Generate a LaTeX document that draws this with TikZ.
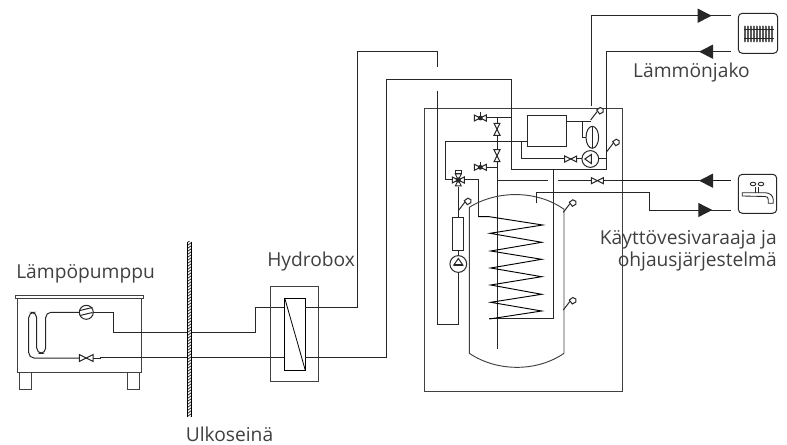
\documentclass[tikz,border=0pt]{standalone}
\usepackage{fontspec}
\setmainfont{Open Sans}
\usetikzlibrary{arrows.meta,calc}
\tikzset{
  >={Triangle[length=10.5pt,width=10.5pt]},
  sensor/.pic={
    \draw[pipe] (0,0)--(6.5,-8.5);
    \draw[pipe,fill=white] (6,-10)--(9.5,-12.5)--(12.5,-11)--(12.5,-8)--(9,-6)--cycle;
  },
  valve/.pic={
    \draw[pipe,fill=white] (-6,-3)--(6,3)--(6,-3)--(-6,3)--cycle;
  },
  motorvalve/.pic={
    \draw[pipe,fill=white] (-6,-3)--(6,3)--(6,-3)--(-6,3)--cycle;
    \draw[pipe] (0,0)--(0,-5.5);
    \fill[black!85] (0,0) circle (2.4);
  },
  pump/.pic={
    \draw[pipe,fill=white] (0,0) circle (8.4);
    \draw[pipe] (-5.5,0)--(1,-4.5)--(1,4.5)--cycle;
    \draw[line width=1.2pt,black!85] (1,-4.5)--(1,4.5);
  },
}
\tikzstyle{pipe}=[line width=.75pt,draw=black!85]
\tikzstyle{casing}=[line width=.7pt,draw=black!75]
\tikzstyle{flow}=[pipe,->,shorten >=0pt]
\tikzstyle{label}=[font=\fontsize{14.4pt}{17pt}\selectfont,text=black!75,inner sep=0pt]

\begin{document}
\begin{tikzpicture}[x=.75pt,y=-.75pt]
  \useasboundingbox (0,0) rectangle (787,445);
  % labels
  \node[label,anchor=base west] (lampopumppu) at (16,278.5) {Lämpöpumppu};
  \node[label,anchor=base west] (hydrobox) at (267,266.5) {Hydrobox};
  \node[label,anchor=base] (ulkoseina) at (229.5,441) {Ulkoseinä};
  \node[label,anchor=base] (jako) at (691.5,78) {Lämmönjako};
  \node[label,anchor=base east] (varaaja) at (777,244) {Käyttövesivaraaja ja};
  \node[label,anchor=base east] (ohjaus) at (777,266) {ohjausjärjestelmä};

  % outdoor unit
  \draw[casing] (17.3,298.3) rectangle (141.7,372.3);
  \draw[casing] (15.7,295.7) rectangle (143.3,298.3);
  \draw[casing] (19.3,372.3) rectangle (31.3,389.3);
  \draw[casing] (127.3,372.3) rectangle (139.3,389.3);
  \coordinate (hxa) at (285,307.7);
  \coordinate (hxb) at (285,357.7);
  \draw[pipe,rounded corners=4] (86.3,312.3)--(45.7,312.3)--(45.7,353.3)--(36.7,353.3)--(36.7,312.3)--(28.7,312.3)--(28.7,358)--(86.3,358);
  \draw[pipe] (86.3,312.3)--(113.3,312.3)--(113.3,332.3)--(255.3,332.3)--(255.3,307.7)--(hxa);
  \draw[pipe] (86.3,358)--(100,358)--(100,357.7)--(hxb);
  \draw[pipe,fill=white] (86.3,312.3) circle (7);
  \draw[pipe] (80,310.5)--(92.5,307.5) (80,315.5)--(92.5,312.5);
  \pic[scale=1.15] at (86.3,358) {valve};

  % wall
  \fill[white] (187.3,241.7) rectangle (191.7,416.7);
  \begin{scope}
    \clip (187.3,241.7) rectangle (191.7,416.7);
    \foreach \y in {240,243,...,420}
      \draw[line width=.45pt] (187,\y+3)--(192,\y-1);
  \end{scope}
  \draw[line width=.8pt] (187.3,241.7)--(187.3,416.7) (191.7,241.7)--(191.7,416.7);

  % hydrobox
  \draw[casing] (270.7,286.7) rectangle (318,381);
  \draw[pipe,fill=white,draw=black] (284.7,298) rectangle (305.3,370.3);
  \draw[line width=.6pt] (284.7,298)--(305.3,370.3);
  \coordinate (hxc) at (305.3,307.7);
  \coordinate (hxd) at (305.3,357.7);

  % storage unit casing
  \draw[casing] (424.7,108) rectangle (622,391);

  % lines up to the indoor unit
  \draw[pipe] (hxc)--(357.7,307.7)--(357.7,52)--(437.5,52)--(437.5,67.3);
  \draw[pipe] (437.5,90.7)--(437.5,324)--(458.3,324)--(458.3,271);
  \draw[pipe] (hxd)--(386.7,357.7)--(386.7,80)--(511.7,80)--(511.7,170)--(606.7,170)--(606.7,51.7)--(731,51.7);
  \draw[pipe] (591.7,105.7)--(591.7,15.7)--(731,15.7);
  \draw[flow] (712.7,51.7)--(699,51.7);
  \draw[flow] (697.7,15.7)--(711.7,15.7);

  % control block
  \draw[pipe] (527.3,116) rectangle (566,146.7);
  \draw[pipe] (566,121.7)--(590.7,121.7);
  \draw[pipe] (582.3,121.7)--(582.3,137.3)--(586,137.3);
  \draw[pipe] (592.3,126.3)--(592.3,148.3);
  \draw[pipe] (592.3,137.3) ellipse (6.3 and 11);
  \draw[pipe] (445.3,180)--(445.3,141.7)--(527.3,141.7);
  \draw[pipe] (521.3,141.7)--(521.3,159)--(582,159);
  \draw[pipe] (598.7,159)--(606.7,159);
  \draw[pipe] (445.3,180)--(478.3,180)--(478.3,216.7)--(489.3,216.7);
  \draw[pipe] (480.3,118)--(511.7,118);
  \draw[pipe] (497,118)--(497,349.3);
  \draw[pipe] (480.3,167.3)--(497,167.3);
  \draw[pipe] (497,180.7)--(547.7,180.7);
  \draw[pipe] (558.3,180.7)--(621.7,180.7);
  \draw[line width=1pt,black!90] (621.7,180.7)--(731,180.7);
  \draw[flow] (712.7,180.7)--(699,180.7);
  \draw[pipe] (553.3,170)--(553.3,318.3)--(489.3,318.3);
  \pic at (570.7,159) {valve};
  \pic at (590.3,159) {pump};
  \pic at (597.3,180.7) {valve};
  \pic at (480.3,118) {motorvalve};
  \pic at (480.3,167.3) {motorvalve};
  \pic[rotate=90] at (497,129.3) {valve};
  \pic[rotate=90] at (497,155.7) {valve};

  % three way valve
  \pic at (458.3,180) {valve};
  \pic[rotate=90] at (458.3,180) {valve};
  \draw[pipe,fill=white] (455,171)--(461.6,171)--(461.6,174)--(455,174)--cycle;
  \fill[black!85] (458.3,180) circle (2.6);

  % charging circuit
  \draw[pipe] (458.3,187)--(458.3,255.6);
  \draw[pipe,fill=white] (452.7,217.3) rectangle (463.3,250);
  \pic[rotate=-90] at (458.3,264) {pump};

  % tank
  \draw[casing] (469.3,353.3)--(469.3,207.3) .. controls (497,190) and (537,190) .. (564,209.3)--(564,353.3) .. controls (537,372) and (497,372) .. cycle;
  \draw[line width=.7pt] (478.3,216.7)--(489.3,216.7)--(542.7,225)--(490,233.3)--(541.7,242.3)--(490.7,251)--(541.7,259.3)--(490.7,268)--(541.7,276.7)--(490.7,285)--(541.7,294.3)--(490.7,302.3)--(541.7,311)--(489.3,319);

  % domestic hot water
  \draw[pipe] (536.3,203.3)--(536.3,192.5)--(649,192.5)--(649,210)--(731,210);
  \draw[flow] (697.7,210)--(712.3,210);

  % sensors
  \pic at (590.7,120) {sensor};
  \pic at (606.7,151.7) {sensor};
  \pic at (458.3,210.7) {sensor};
  \pic at (563.3,212.3) {sensor};
  \pic at (563.3,310) {sensor};

  % radiator icon
  \draw[pipe,rounded corners=3] (738.3,13.3) rectangle (777.7,53.3);
  \foreach \x in {745,748,...,772}
    \draw[line width=1.5pt,black!65,line cap=round] (\x,26.5)--(\x,41.5);
  \draw[line width=.9pt,black!85] (743.5,29.5)--(773.5,29.5) (743.5,38.5)--(773.5,38.5);

  % tap icon
  \draw[pipe,rounded corners=3] (738.3,174.3) rectangle (776.7,213.3);
  \draw[pipe,line width=.65pt] (742.3,192.7)--(765,192.7) .. controls (770,192.7) and (773.3,196) .. (773.3,200)--(773.3,203.3)--(768.3,203.3)--(768.3,199.5) .. controls (768.3,197.5) and (767,196.5) .. (765,196.5)--(742.3,196)--cycle;
  \draw[pipe,line width=.65pt] (755,192.7)--(755,186.7) (758.3,192.7)--(758.3,186.7);
  \draw[pipe,line width=.65pt] (753,184) ellipse (2.8 and 1.8) (761,184) ellipse (2.8 and 1.8);
\end{tikzpicture}
\end{document}
